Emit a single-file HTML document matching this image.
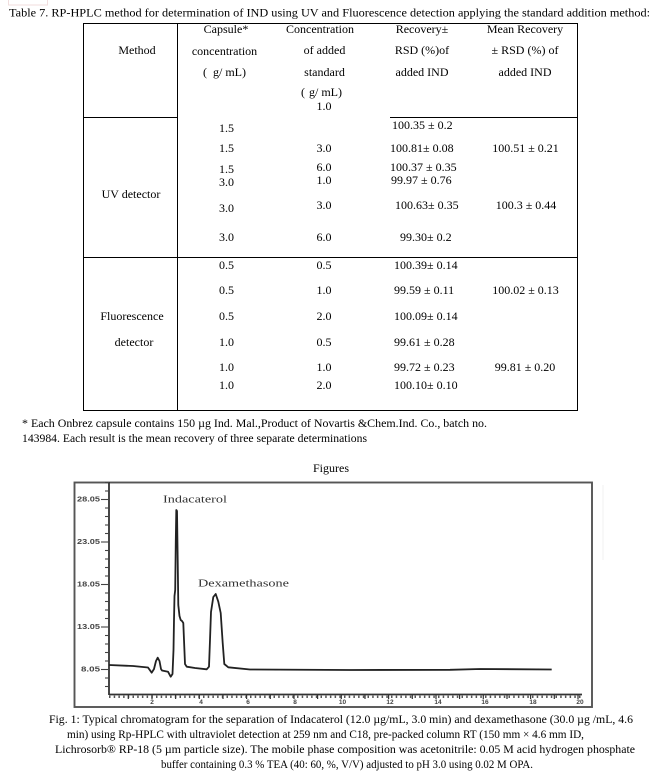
<!DOCTYPE html>
<html>
<head>
<meta charset="utf-8">
<style>
  html, body { margin: 0; padding: 0; background: #fff; }
  body { width: 655px; height: 777px; overflow: hidden; position: relative; }
  svg { position: absolute; left: 0; top: 0; }
  .t { font-family: "Liberation Serif", "DejaVu Serif", serif; font-size: 12px; fill: #000; }
  .c { text-anchor: middle; }
  .lbl { font-family: "Liberation Serif", serif; font-size: 10px; fill: #333; }
  .ytk { font-family: "Liberation Sans", "DejaVu Sans", sans-serif; font-size: 7px; font-weight: bold; fill: #444; text-anchor: end; }
  .xtk { font-family: "Liberation Sans", "DejaVu Sans", sans-serif; font-size: 6.5px; font-weight: bold; fill: #444; text-anchor: middle; }
</style>
</head>
<body>
<svg width="655" height="777" viewBox="0 0 655 777" xmlns="http://www.w3.org/2000/svg">
  <rect x="8.5" y="-1" width="39" height="6" fill="none" stroke="#f1dede" stroke-width="1"/>

  <text class="t" x="9" y="16.5" textLength="641" lengthAdjust="spacingAndGlyphs">Table 7. RP-HPLC method for determination of IND using UV and Fluorescence detection applying the standard addition method:</text>

  <g stroke="#000" stroke-width="1" fill="none" shape-rendering="crispEdges">
    <line x1="83" y1="23.5" x2="578" y2="23.5"/>
    <line x1="83.5" y1="23" x2="83.5" y2="410.5"/>
    <line x1="577.5" y1="23" x2="577.5" y2="410.5"/>
    <line x1="177.5" y1="23" x2="177.5" y2="410.5"/>
    <line x1="83" y1="117.5" x2="177.5" y2="117.5"/>
    <line x1="390" y1="117.5" x2="578" y2="117.5"/>
    <line x1="83" y1="257.5" x2="578" y2="257.5"/>
    <line x1="83" y1="410.5" x2="578" y2="410.5"/>
  </g>

  <text class="t c" x="137" y="54">Method</text>

  <text class="t c" x="226" y="33">Capsule*</text>
  <text class="t c" x="224.5" y="55">concentration</text>
  <text class="t" x="203" y="76">(</text>
  <text class="t" x="213" y="76">g/ mL)</text>

  <text class="t c" x="320" y="33">Concentration</text>
  <text class="t c" x="324.5" y="54">of added</text>
  <text class="t c" x="324.5" y="76">standard</text>
  <text class="t" x="301" y="96">(</text>
  <text class="t" x="309" y="96">g/ mL)</text>
  <text class="t c" x="324" y="110">1.0</text>

  <text class="t c" x="422" y="33">Recovery±</text>
  <text class="t c" x="422" y="54">RSD (%)of</text>
  <text class="t c" x="422" y="76">added IND</text>

  <text class="t c" x="525" y="33">Mean Recovery</text>
  <text class="t c" x="525" y="54">± RSD (%) of</text>
  <text class="t c" x="525" y="76">added IND</text>

  <text class="t c" x="131" y="198">UV detector</text>

  <text class="t c" x="226.5" y="132">1.5</text>
  <text class="t c" x="226.5" y="152">1.5</text>
  <text class="t c" x="226.5" y="173">1.5</text>
  <text class="t c" x="226.5" y="186">3.0</text>
  <text class="t c" x="226.5" y="212">3.0</text>
  <text class="t c" x="226.5" y="241">3.0</text>

  <text class="t c" x="324" y="152">3.0</text>
  <text class="t c" x="324" y="171">6.0</text>
  <text class="t c" x="324" y="184">1.0</text>
  <text class="t c" x="324" y="209">3.0</text>
  <text class="t c" x="324" y="241">6.0</text>

  <text class="t" x="392" y="129">100.35 ± 0.2</text>
  <text class="t" x="390" y="152">100.81± 0.08</text>
  <text class="t" x="390" y="171">100.37 ± 0.35</text>
  <text class="t" x="391" y="184">99.97 ± 0.76</text>
  <text class="t" x="395" y="209">100.63± 0.35</text>
  <text class="t" x="400" y="241">99.30± 0.2</text>

  <text class="t c" x="525.5" y="152">100.51 ± 0.21</text>
  <text class="t c" x="526" y="209">100.3 ± 0.44</text>

  <text class="t c" x="132" y="320">Fluorescence</text>
  <text class="t c" x="134" y="346">detector</text>

  <text class="t c" x="226.5" y="269">0.5</text>
  <text class="t c" x="226.5" y="294">0.5</text>
  <text class="t c" x="226.5" y="320">0.5</text>
  <text class="t c" x="226.5" y="346">1.0</text>
  <text class="t c" x="226.5" y="371">1.0</text>
  <text class="t c" x="226.5" y="389">1.0</text>

  <text class="t c" x="324" y="269">0.5</text>
  <text class="t c" x="324" y="294">1.0</text>
  <text class="t c" x="324" y="320">2.0</text>
  <text class="t c" x="324" y="346">0.5</text>
  <text class="t c" x="324" y="371">1.0</text>
  <text class="t c" x="324" y="389">2.0</text>

  <text class="t" x="394" y="269">100.39± 0.14</text>
  <text class="t" x="394" y="294">99.59 ± 0.11</text>
  <text class="t" x="394" y="320">100.09± 0.14</text>
  <text class="t" x="394" y="346">99.61 ± 0.28</text>
  <text class="t" x="394" y="371">99.72 ± 0.23</text>
  <text class="t" x="394" y="389">100.10± 0.10</text>

  <text class="t c" x="525.5" y="294">100.02 ± 0.13</text>
  <text class="t c" x="525" y="371">99.81 ± 0.20</text>

  <text class="t" x="22" y="427" textLength="465" lengthAdjust="spacingAndGlyphs">* Each Onbrez capsule contains 150 µg Ind. Mal.,Product of Novartis &amp;Chem.Ind. Co., batch no.</text>
  <text class="t" x="22" y="442" textLength="345" lengthAdjust="spacingAndGlyphs">143984. Each result is the mean recovery of three separate determinations</text>

  <text class="t c" x="331" y="472">Figures</text>

  <g>
    <rect x="74.5" y="482.5" width="517.5" height="224.5" fill="none" stroke="#555" stroke-width="1.9"/>
    <line x1="603" y1="485" x2="603" y2="560" stroke="#f0f0f0" stroke-width="1"/>
    <line x1="109" y1="482" x2="109" y2="695" stroke="#333" stroke-width="1.8"/>
    <line x1="109" y1="694.5" x2="582" y2="694.5" stroke="#333" stroke-width="1.8"/>

    <g stroke="#444" stroke-width="1.1">
      <line x1="105" y1="482.5" x2="109" y2="482.5"/>
      <line x1="105" y1="491" x2="109" y2="491"/>
      <line x1="101" y1="499.5" x2="109" y2="499.5"/>
      <line x1="105" y1="508" x2="109" y2="508"/>
      <line x1="105" y1="516.5" x2="109" y2="516.5"/>
      <line x1="105" y1="525" x2="109" y2="525"/>
      <line x1="105" y1="533.5" x2="109" y2="533.5"/>
      <line x1="101" y1="542" x2="109" y2="542"/>
      <line x1="105" y1="550.5" x2="109" y2="550.5"/>
      <line x1="105" y1="559" x2="109" y2="559"/>
      <line x1="105" y1="567.5" x2="109" y2="567.5"/>
      <line x1="105" y1="576" x2="109" y2="576"/>
      <line x1="101" y1="584.5" x2="109" y2="584.5"/>
      <line x1="105" y1="593" x2="109" y2="593"/>
      <line x1="105" y1="601.5" x2="109" y2="601.5"/>
      <line x1="105" y1="610" x2="109" y2="610"/>
      <line x1="105" y1="618.5" x2="109" y2="618.5"/>
      <line x1="101" y1="627" x2="109" y2="627"/>
      <line x1="105" y1="635.5" x2="109" y2="635.5"/>
      <line x1="105" y1="644" x2="109" y2="644"/>
      <line x1="105" y1="652.5" x2="109" y2="652.5"/>
      <line x1="105" y1="661" x2="109" y2="661"/>
      <line x1="101" y1="669.5" x2="109" y2="669.5"/>
      <line x1="105" y1="678" x2="109" y2="678"/>
      <line x1="105" y1="686.5" x2="109" y2="686.5"/>
    </g>
    <text class="ytk" x="100" y="501.5" textLength="23" lengthAdjust="spacingAndGlyphs">28.05</text>
    <text class="ytk" x="100" y="544" textLength="23" lengthAdjust="spacingAndGlyphs">23.05</text>
    <text class="ytk" x="100" y="586.5" textLength="23" lengthAdjust="spacingAndGlyphs">18.05</text>
    <text class="ytk" x="100" y="629" textLength="23" lengthAdjust="spacingAndGlyphs">13.05</text>
    <text class="ytk" x="100" y="671.5" textLength="19" lengthAdjust="spacingAndGlyphs">8.05</text>

    <line x1="109" y1="696.8" x2="582" y2="696.8" stroke="#555" stroke-width="2.4" stroke-dasharray="1.5 3.2"/>
    <g stroke="#333" stroke-width="1.2">
      <line x1="128.3" y1="694" x2="128.3" y2="699"/>
      <line x1="152" y1="694" x2="152" y2="699"/>
      <line x1="175.6" y1="694" x2="175.6" y2="699"/>
      <line x1="199.3" y1="694" x2="199.3" y2="699"/>
      <line x1="223" y1="694" x2="223" y2="699"/>
      <line x1="246.6" y1="694" x2="246.6" y2="699"/>
      <line x1="270.3" y1="694" x2="270.3" y2="699"/>
      <line x1="294" y1="694" x2="294" y2="699"/>
      <line x1="317.6" y1="694" x2="317.6" y2="699"/>
      <line x1="341.3" y1="694" x2="341.3" y2="699"/>
      <line x1="365" y1="694" x2="365" y2="699"/>
      <line x1="388.6" y1="694" x2="388.6" y2="699"/>
      <line x1="412.3" y1="694" x2="412.3" y2="699"/>
      <line x1="436" y1="694" x2="436" y2="699"/>
      <line x1="459.6" y1="694" x2="459.6" y2="699"/>
      <line x1="483.3" y1="694" x2="483.3" y2="699"/>
      <line x1="507" y1="694" x2="507" y2="699"/>
      <line x1="530.6" y1="694" x2="530.6" y2="699"/>
      <line x1="554.3" y1="694" x2="554.3" y2="699"/>
      <line x1="578" y1="694" x2="578" y2="699"/>
    </g>
    <text class="xtk" x="152" y="704">2</text>
    <text class="xtk" x="201" y="704">4</text>
    <text class="xtk" x="248" y="704">6</text>
    <text class="xtk" x="295" y="704">8</text>
    <text class="xtk" x="342.5" y="704">10</text>
    <text class="xtk" x="390" y="704">12</text>
    <text class="xtk" x="438" y="704">14</text>
    <text class="xtk" x="485" y="704">16</text>
    <text class="xtk" x="533" y="704">18</text>
    <text class="xtk" x="580" y="704">20</text>

    <text class="lbl" x="163" y="502.5" textLength="64" lengthAdjust="spacingAndGlyphs">Indacaterol</text>
    <text class="lbl" x="198" y="586.5" textLength="91" lengthAdjust="spacingAndGlyphs">Dexamethasone</text>

    <path d="M109,665 L133,666 L148,667.5 L151.7,672.7 L154,669 L156,661 L157.7,657.7 L159.5,661 L161,669 L162,670.5 L168,671.7 L170.7,676.7 L172.5,674 L173.5,650 L174,620 L174.5,596 L175.2,590 L175.8,540 L176.3,510 L177,511 L177.7,560 L178.3,605 L179.5,616 L180.7,620 L182,621 L183.3,623 L184,640 L185,664 L186.7,666.7 L195,668 L206.7,669.3 L209,666.7 L210,640 L211,612 L213.3,597 L215.7,594 L218.3,601.7 L220.7,613 L222.7,643 L224.3,664 L228.3,667.3 L250,669.5 L350,670 L450,669.8 L480,669 L551.7,669.5"
          fill="none" stroke="#222" stroke-width="1.8" stroke-linejoin="round"/>
  </g>

  <text class="t" x="49" y="723" textLength="584" lengthAdjust="spacingAndGlyphs">Fig. 1: Typical chromatogram for the separation of Indacaterol (12.0 µg/mL, 3.0 min) and dexamethasone (30.0 µg /mL, 4.6</text>
  <text class="t" x="67" y="738" textLength="517" lengthAdjust="spacingAndGlyphs">min) using Rp-HPLC with ultraviolet detection at 259 nm and C18, pre-packed column RT (150 mm × 4.6 mm ID,</text>
  <text class="t" x="55" y="753" textLength="580" lengthAdjust="spacingAndGlyphs">Lichrosorb® RP-18 (5 µm particle size). The mobile phase composition was acetonitrile: 0.05 M acid hydrogen phosphate</text>
  <text class="t" x="161" y="768" textLength="372" lengthAdjust="spacingAndGlyphs">buffer containing 0.3 % TEA (40: 60, %, V/V) adjusted to pH 3.0 using 0.02 M OPA.</text>
</svg>
</body>
</html>
